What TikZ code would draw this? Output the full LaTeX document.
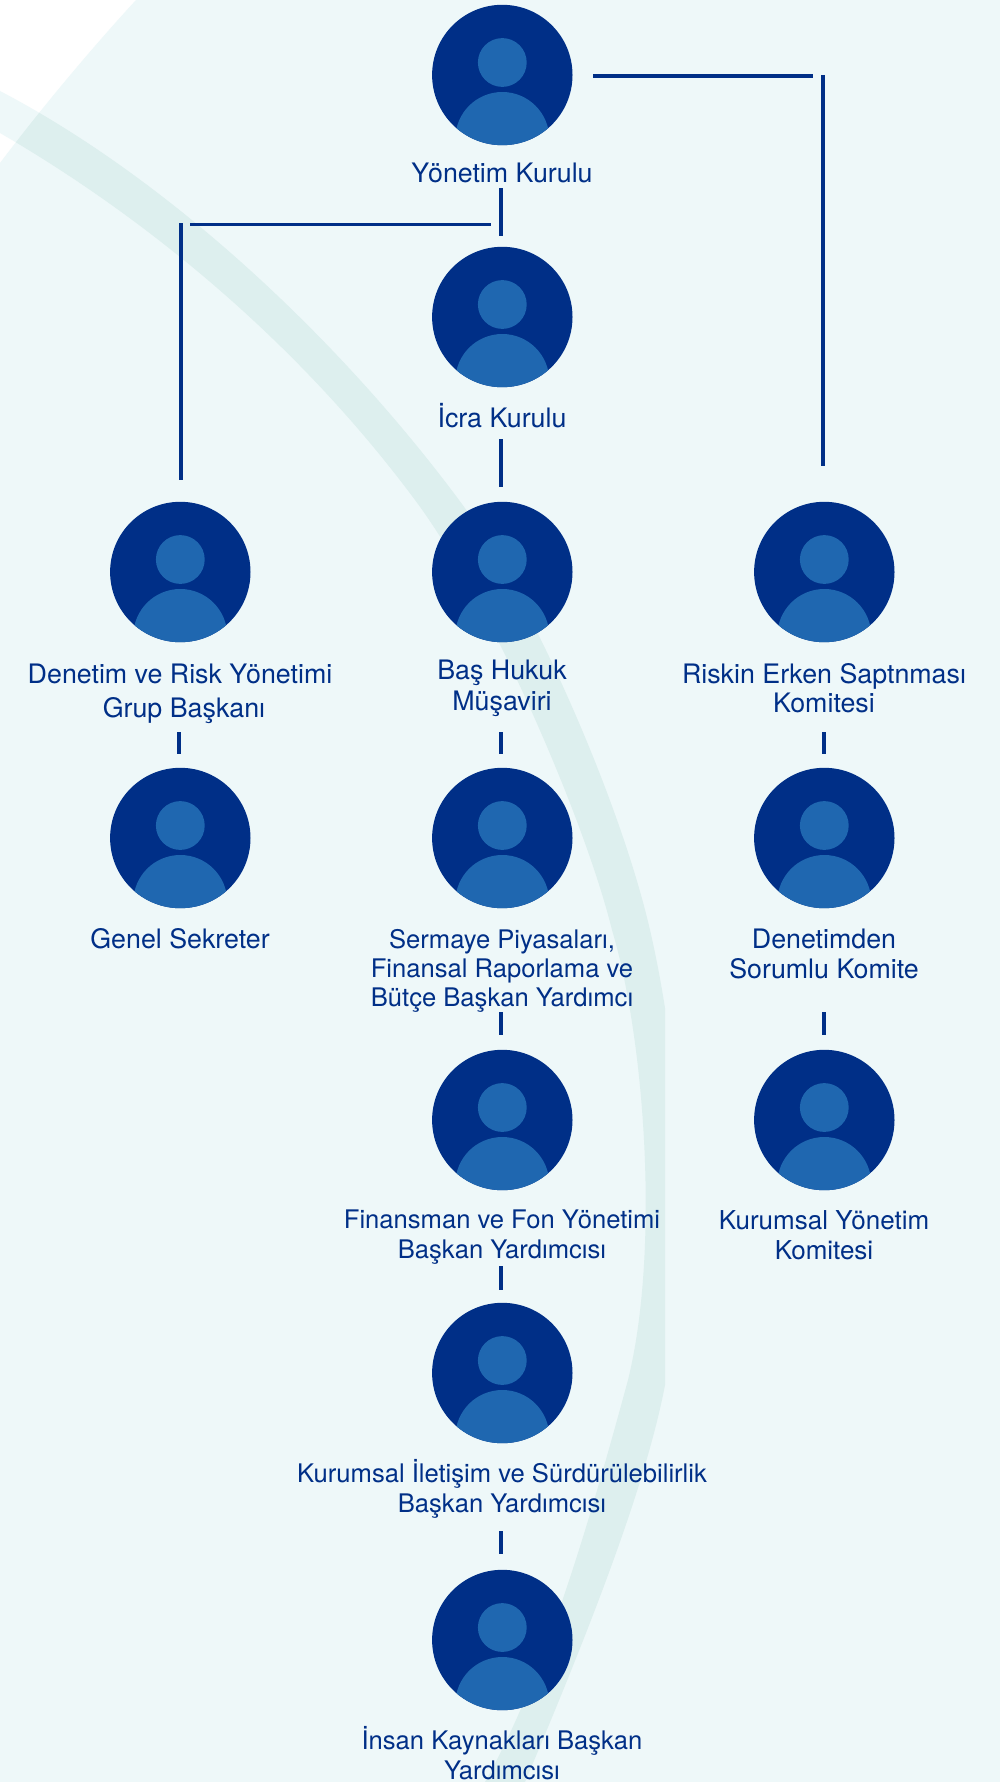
\documentclass[tikz,border=0pt]{standalone}
\usepackage{fontspec}
\setmainfont{TeX Gyre Heros}
\definecolor{bgc}{HTML}{EEF8F9}
\definecolor{bandc}{HTML}{DDEFEE}
\definecolor{navy}{HTML}{002F87}
\definecolor{midb}{HTML}{1F67B0}
\def\bandpath{(0,91) .. controls (170,180) and (340,340) .. (459,500) .. controls (530,595) and (620,800) .. (650,930) .. controls (680,1060) and (695,1250) .. (665,1385) .. controls (645,1490) and (585,1640) .. (525,1782) -- (485,1782) .. controls (545,1675) and (590,1520) .. (628,1380) .. controls (660,1250) and (645,1040) .. (612,930) .. controls (585,820) and (490,600) .. (415,500) .. controls (300,345) and (150,220) .. (0,133) -- cycle}
\tikzset{
 x=1pt,y=-1pt,
 avatar/.style={circle,fill=navy,minimum size=140.4pt,inner sep=0pt,outer sep=0pt},
 lab/.style={text=navy,align=center,font=\fontsize{26.8}{29.5}\selectfont,inner sep=0pt},
 labs/.style={lab,font=\fontsize{25.6}{29.3}\selectfont},
 link/.style={draw=navy,line width=3.2pt}
}
\begin{document}
\begin{tikzpicture}
\useasboundingbox (0,0) rectangle (1000,1782);
\fill[white] (0,0) rectangle (1000,1782);
\begin{scope}\clip (0,0) rectangle (665,1782); \fill[bgc] \bandpath; \end{scope}
\begin{scope}
 \clip (136,0) .. controls (90,50) and (40,110) .. (0,163) -- (0,1782) -- (1000,1782) -- (1000,0) -- cycle;
 \fill[bgc] (0,0) rectangle (1000,1782);
 \clip (0,0) rectangle (665,1782);
 \fill[bandc] \bandpath;
\end{scope}
% avatars
\node[avatar] (yk) at (502.3,75) {};
\node[avatar] (ik) at (502.3,317) {};
\node[avatar] (dr) at (180.3,572) {};
\node[avatar] (bh) at (502.3,572) {};
\node[avatar] (re) at (824.3,572) {};
\node[avatar] (gs) at (180.3,838) {};
\node[avatar] (sp) at (502.3,838) {};
\node[avatar] (dk) at (824.3,838) {};
\node[avatar] (ff) at (502.3,1120) {};
\node[avatar] (ky) at (824.3,1120) {};
\node[avatar] (ks) at (502.3,1373) {};
\node[avatar] (in) at (502.3,1640) {};
\foreach \n in {yk,ik,dr,bh,re,gs,sp,dk,ff,ky,ks,in}{
 \begin{scope}
  \clip (\n.center) circle[radius=70.2pt];
  \fill[midb] ([yshift=-64pt]\n.center) circle[radius=47pt];
  \fill[midb] ([yshift=12.5pt]\n.center) circle[radius=24.4pt];
 \end{scope}
}
% labels
\node[lab] (lyk) at (502,173) {Yönetim Kurulu};
\node[lab] (lik) at (502,416) {İcra Kurulu};
\node[lab,font=\fontsize{26.8}{34}\selectfont] (ldr) at (180,694) {Denetim ve Risk Yönetimi\\\hspace*{8pt}Grup Başkanı};
\node[lab,font=\fontsize{26.8}{31}\selectfont] (lbh) at (502,688) {Baş Hukuk\\Müşaviri};
\node[lab] (lre) at (824,688) {Riskin Erken Saptnması\\Komitesi};
\node[lab] (lgs) at (180,939) {Genel Sekreter};
\node[labs] (lsp) at (502,971) {Sermaye Piyasaları,\\Finansal Raporlama ve\\Bütçe Başkan Yardımcı};
\node[lab] (ldk) at (824,954) {Denetimden\\Sorumlu Komite};
\node[labs] (lff) at (502,1237) {Finansman ve Fon Yönetimi\\Başkan Yardımcısı};
\node[lab,font=\fontsize{26}{29.5}\selectfont] (lky) at (824,1235) {Kurumsal Yönetim\\Komitesi};
\node[labs] (lks) at (502,1489) {Kurumsal İletişim ve Sürdürülebilirlik\\Başkan Yardımcısı};
\node[labs] (lin) at (502,1753) {İnsan Kaynakları Başkan\\Yardımcısı};
% connector ends
\coordinate (a1) at (593,76); \coordinate (a2) at (813,76);
\coordinate (b1) at (823,75); \coordinate (b2) at (823,466);
\coordinate (c1) at (501,188); \coordinate (c2) at (501,236);
\coordinate (d1) at (490.5,224.5); \coordinate (d2) at (189.5,224.5);
\coordinate (e1) at (181,223); \coordinate (e2) at (181,480);
\coordinate (f1) at (501,439); \coordinate (f2) at (501,487);
\coordinate (g1) at (179,732); \coordinate (g2) at (179,754);
\coordinate (h1) at (501,732); \coordinate (h2) at (501,754);
\coordinate (i1) at (824,732); \coordinate (i2) at (824,754);
\coordinate (j1) at (501,1012); \coordinate (j2) at (501,1035);
\coordinate (k1) at (824,1012); \coordinate (k2) at (824,1035);
\coordinate (l1) at (501,1266); \coordinate (l2) at (501,1290);
\coordinate (m1) at (501,1531); \coordinate (m2) at (501,1554);
\foreach \s in {a,b,c,d,e,f,g,h,i,j,k,l,m}{\draw[link] (\s1) -- (\s2);}
\end{tikzpicture}
\end{document}
